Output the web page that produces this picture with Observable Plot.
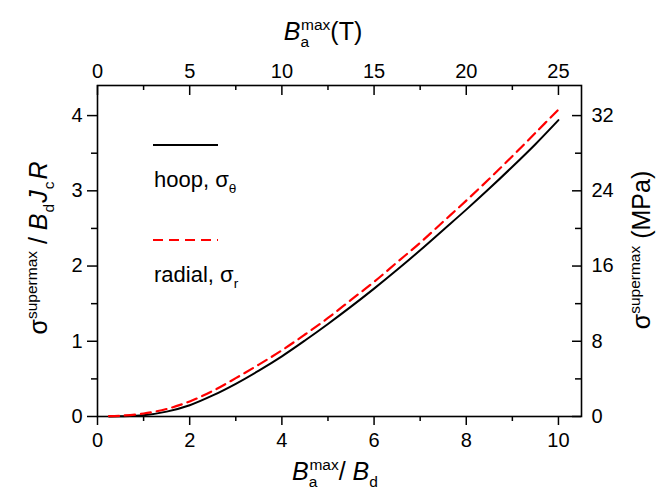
<!DOCTYPE html>
<html>
<head>
<meta charset="utf-8">
<script src="https://cdn.jsdelivr.net/npm/d3@7"></script>
<script src="https://cdn.jsdelivr.net/npm/@observablehq/plot@0.6"></script>
<style>
  html, body { margin: 0; padding: 0; background: #fff; }
  #chart svg { display: block; }
</style>
</head>
<body>
<div id="chart"></div>
<script>
// Data
const xValues = [0.25, 0.5, 1, 1.5, 2, 2.5, 3, 3.5, 4, 4.5, 5, 5.5, 6, 6.5, 7, 7.5, 8, 8.5, 9, 9.5, 10];
const hoopValues = [0, 0.002, 0.017, 0.065, 0.15, 0.28, 0.435, 0.61, 0.80, 1.01, 1.23, 1.46, 1.70, 1.95, 2.21, 2.48, 2.75, 3.03, 3.32, 3.62, 3.94];
const radialValues = [0.004, 0.01, 0.04, 0.10, 0.20, 0.34, 0.51, 0.69, 0.88, 1.09, 1.31, 1.55, 1.79, 2.05, 2.31, 2.59, 2.87, 3.16, 3.46, 3.77, 4.08];
const bottomMajor = [0, 2, 4, 6, 8, 10];
const bottomMinor = [1, 3, 5, 7, 9];
const leftMajor = [0, 1, 2, 3, 4];
const leftMinor = [0.5, 1.5, 2.5, 3.5];
const topMajorTesla = [0, 5, 10, 15, 20, 25];
const topMinorTesla = [2.5, 7.5, 12.5, 17.5, 22.5];
const rightMajorMPa = [0, 8, 16, 24, 32];
const rightMinorMPa = [4, 12, 20, 28];
const teslaPerUnit = 2.5;   // B (T) = 2.5 * Ba/Bd
const mpaPerUnit = 8;       // sigma (MPa) = 8 * normalized

const W = 668, H = 494;
const mL = 97, mR = 87, mT = 85, mB = 78;
const plotW = W - mL - mR, plotH = H - mT - mB;

const hoop = xValues.map((x, i) => ({x, y: hoopValues[i]}));
const radial = xValues.map((x, i) => ({x, y: radialValues[i]}));

const font = "'Liberation Sans', Arial, sans-serif";

const chart = Plot.plot({
  width: W, height: H,
  marginLeft: mL, marginRight: mR, marginTop: mT, marginBottom: mB,
  style: {fontFamily: font, fontSize: "20px", color: "#000", background: "#fff"},
  x: {domain: [0, 10.5]},
  y: {domain: [0, 4.4]},
  marks: [
    Plot.frame({stroke: "#000", strokeWidth: 1.6}),
    // bottom axis
    Plot.axisX(bottomMajor, {anchor: "bottom", tickSize: 9, tickPadding: 7, strokeWidth: 1.5, label: null, fontSize: 20, tickFormat: d => String(d)}),
    Plot.axisX(bottomMinor, {anchor: "bottom", tickSize: 5, tickFormat: () => "", strokeWidth: 1.5, label: null}),
    // left axis
    Plot.axisY(leftMajor, {anchor: "left", tickSize: 10, tickPadding: 5, strokeWidth: 1.5, label: null, fontSize: 20, tickFormat: d => String(d)}),
    Plot.axisY(leftMinor, {anchor: "left", tickSize: 6, tickFormat: () => "", strokeWidth: 1.5, label: null}),
    // top axis (Tesla), inward ticks
    Plot.tickX(topMajorTesla, {x: d => d / teslaPerUnit, insetBottom: plotH - 10, stroke: "#000", strokeWidth: 1.5}),
    Plot.tickX(topMinorTesla, {x: d => d / teslaPerUnit, insetBottom: plotH - 5, stroke: "#000", strokeWidth: 1.5}),
    Plot.axisX(topMajorTesla.map(d => d / teslaPerUnit), {anchor: "top", tickSize: 0, tickPadding: 8, tickFormat: d => String(Math.round(d * teslaPerUnit)), label: null, fontSize: 20}),
    // right axis (MPa), inward ticks
    Plot.tickY(rightMajorMPa, {y: d => d / mpaPerUnit, insetLeft: plotW - 9, stroke: "#000", strokeWidth: 1.5}),
    Plot.tickY(rightMinorMPa, {y: d => d / mpaPerUnit, insetLeft: plotW - 6, stroke: "#000", strokeWidth: 1.5}),
    Plot.axisY(rightMajorMPa.map(d => d / mpaPerUnit), {anchor: "right", tickSize: 0, tickPadding: 10, tickFormat: d => String(Math.round(d * mpaPerUnit)), label: null, fontSize: 20}),
    // curves
    Plot.line(hoop, {x: "x", y: "y", stroke: "#000", strokeWidth: 2, curve: "catmull-rom"}),
    Plot.line(radial, {x: "x", y: "y", stroke: "#ff0000", strokeWidth: 2.2, strokeDasharray: "10,6", curve: "catmull-rom"})
  ]
});

document.getElementById("chart").appendChild(chart);

// Rich-text labels (sub/superscripts) and legend
const svg = d3.select(chart);
const g = svg.append("g").attr("font-family", font).attr("fill", "#000");

function rich(parent, x, y, rotate, parts, size, anchor) {
  const t = parent.append("text")
    .attr("text-anchor", anchor || "middle")
    .attr("font-size", size)
    .attr("transform", `translate(${x},${y}) rotate(${rotate})`);
  let shift = 0; // current baseline shift in px
  const small = size * 0.62;
  parts.forEach(p => {
    const s = t.append("tspan").text(p.t);
    let target = 0, fs = size;
    if (p.sup) { target = -size * 0.42; fs = small; }
    if (p.sub) { target = size * 0.28; fs = small; }
    s.attr("font-size", fs).attr("dy", target - shift);
    if (p.dx) s.attr("dx", p.dx);
    if (p.it) s.attr("font-style", "italic");
    shift = target;
  });
  return t;
}

const titleSize = 25;
// top title: B_a^max(T)
rich(g, 323, 40, 0, [
  {t: "B", it: true}, {t: "a", sub: true}, {t: "max", sup: true, dx: -8}, {t: "(T)"}
], titleSize);
// bottom title: B_a^max / B_d
rich(g, 335, 480, 0, [
  {t: "B", it: true}, {t: "a", sub: true}, {t: "max", sup: true, dx: -8}, {t: "/ "}, {t: "B", it: true}, {t: "d", sub: true}
], titleSize);
// left title
rich(g, 47, 248, -90, [
  {t: "σ"}, {t: "supermax", sup: true}, {t: " / "}, {t: "B", it: true}, {t: "d", sub: true, dx: 1},
  {t: "J", it: true, dx: 1}, {t: "c", sub: true, dx: 1}, {t: "R", it: true, dx: 2}
], titleSize);
// right title
rich(g, 650, 250, -90, [
  {t: "σ"}, {t: "supermax", sup: true}, {t: " (MPa)"}
], titleSize);

// legend
const lg = svg.append("g").attr("font-family", font);
lg.append("line").attr("x1", 153).attr("x2", 218).attr("y1", 145).attr("y2", 145)
  .attr("stroke", "#000").attr("stroke-width", 2);
rich(lg, 154, 187, 0, [{t: "hoop, σ"}, {t: "θ", sub: true}], 22, "start");
lg.append("line").attr("x1", 153).attr("x2", 218).attr("y1", 240).attr("y2", 240)
  .attr("stroke", "#ff0000").attr("stroke-width", 2.2).attr("stroke-dasharray", "10,6");
rich(lg, 154, 282, 0, [{t: "radial, σ"}, {t: "r", sub: true}], 22, "start");
</script>
</body>
</html>
